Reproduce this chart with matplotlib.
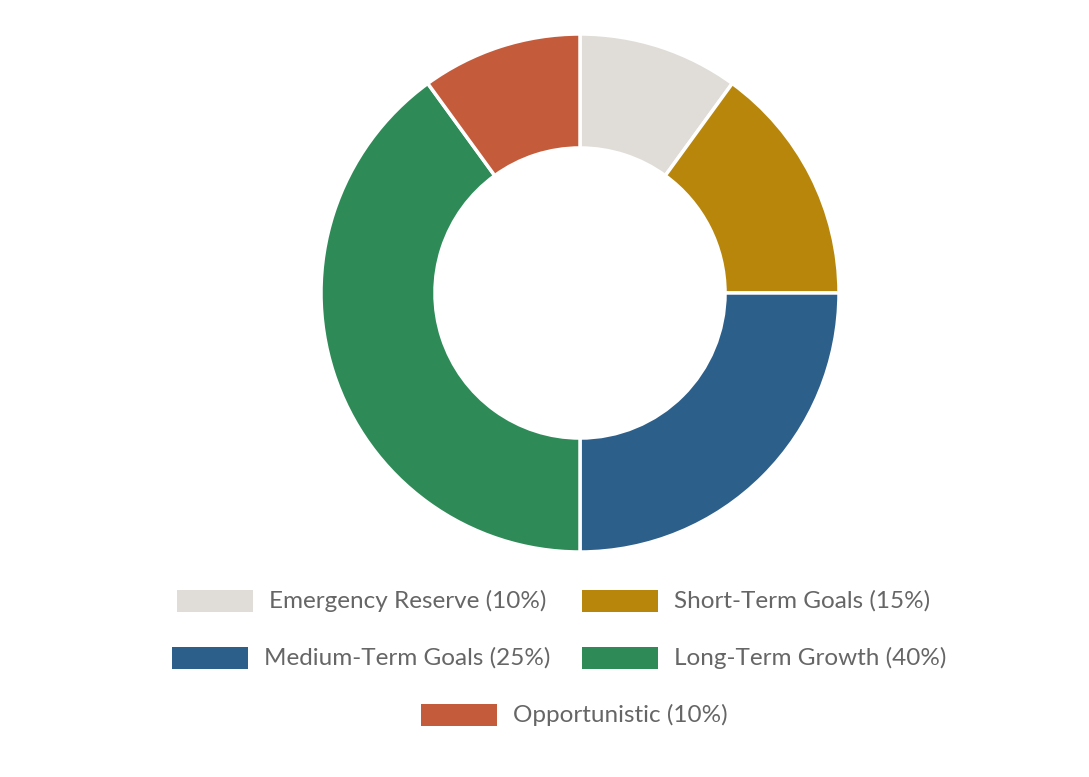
import matplotlib.pyplot as plt
from matplotlib.patches import Rectangle

labels = ['Emergency Reserve', 'Short-Term Goals', 'Medium-Term Goals',
          'Long-Term Growth', 'Opportunistic']
values = [10, 15, 25, 40, 10]
colors = ['#E0DDD8', '#B8860B', '#2C5F8A', '#2E8B57', '#C45C3C']

W, H = 1089, 777
fig = plt.figure(figsize=(W / 100, H / 100), dpi=100)

# donut
cx, cy, r = 580, 293, 259
ax = fig.add_axes([(cx - r) / W, (H - cy - r) / H, 2 * r / W, 2 * r / H])
ax.pie(values, colors=colors, startangle=90, counterclock=False, radius=1,
       wedgeprops=dict(width=0.44, edgecolor='white', linewidth=2.5))
ax.set_xlim(-1, 1)
ax.set_ylim(-1, 1)
ax.set_aspect('auto')
ax.axis('off')

# legend, laid out by hand (rows centered like the original)
box_x = [177, 582, 172, 582, 421]
row_y = [601, 601, 658, 658, 715]
bw, bh = 76, 22
for i in range(len(labels)):
    x0, y0 = box_x[i], row_y[i]
    fig.patches.append(Rectangle((x0 / W, (H - y0 - bh / 2) / H), bw / W, bh / H,
                                 transform=fig.transFigure, facecolor=colors[i],
                                 edgecolor='none'))
    fig.text((x0 + bw + 16) / W, (H - y0) / H, f'{labels[i]} ({values[i]}%)',
             fontsize=17.5, family='Lato', color='#666666', va='center', ha='left')

fig.savefig('out.png', dpi=100)
